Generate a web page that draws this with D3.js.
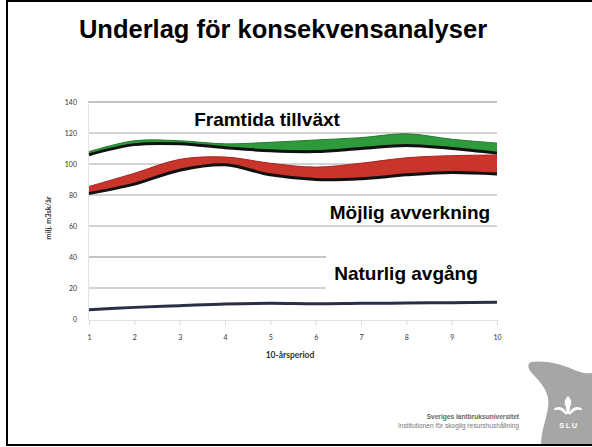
<!DOCTYPE html>
<html>
<head>
<meta charset="utf-8">
<script src="https://cdn.jsdelivr.net/npm/d3@7"></script>
<style>
  body { margin: 0; background: #fff; }
  svg { display: block; }
</style>
</head>
<body>
<div id="graph"></div>
<script>

// 10-årsperioder
var periods = [1, 2, 3, 4, 5, 6, 7, 8, 9, 10];

// Framtida tillväxt (övre kant, grön) och undre svarta linjen
var tillvaxtTop = [108, 115, 115, 113, 114, 115.5, 117, 119.5, 116, 113.5];
var tillvaxtBottom = [106, 112.5, 113, 110.5, 108.5, 108, 110, 112, 110, 107];

// Möjlig avverkning (övre kant, röd) och undre svarta linjen
var avverkningTop = [85.5, 94, 103, 104.5, 100.5, 98, 100.5, 104, 105.4, 105.8];
var avverkningBottom = [81, 87, 96, 99.5, 93, 90, 90.5, 93, 94.5, 93.5];

// Naturlig avgång
var avgang = [6, 7.5, 8.6, 9.7, 10.1, 9.8, 10.1, 10.3, 10.5, 10.8];

var yTicks = [0, 20, 40, 60, 80, 100, 120, 140];

var labels = [
	{ text: "Framtida tillväxt", x: 267, y: 126, box: [186, 107, 164, 25], op: 0.55 },
	{ text: "Möjlig avverkning", x: 410, y: 219, box: [322, 199, 178, 25], op: 0.55 },
	{ text: "Naturlig avgång", x: 406, y: 280, box: [326, 250, 176, 44], op: 1 }
];

function createGraph() {

	var svg = d3.select("#graph")
		.append("svg")
		.attr("width", 592)
		.attr("height", 447);

	var x = d3.scaleLinear().domain([1, 10]).range([89, 497]);
	var y = d3.scaleLinear().domain([0, 140]).range([319, 102]);

	// slide frame
	svg.append("rect")
		.attr("x", 7).attr("y", 1)
		.attr("width", 600).attr("height", 444)
		.attr("fill", "none")
		.attr("stroke", "#000")
		.attr("stroke-width", 2);

	// title
	svg.append("text")
		.attr("x", 283).attr("y", 38)
		.attr("text-anchor", "middle")
		.attr("font-family", "Liberation Sans, Arial, sans-serif")
		.attr("font-weight", "bold")
		.attr("font-size", 25.5)
		.text("Underlag för konsekvensanalyser");

	// gridlines
	svg.append("g")
		.selectAll("line")
		.data(yTicks.filter(d => d > 0))
		.enter().append("line")
		.attr("x1", 88).attr("x2", 497)
		.attr("y1", d => y(d)).attr("y2", d => y(d))
		.attr("stroke", d => (d == 140 || d == 40) ? "#c4c4c4" : "#a8a8a8")
		.attr("stroke-width", d => (d == 140 || d == 40) ? 1.8 : 1.1);

	// y axis
	var yAxis = d3.axisLeft(y)
		.tickValues(yTicks)
		.tickSize(0)
		.tickPadding(11);
	var gy = svg.append("g")
		.attr("transform", "translate(88,0)")
		.call(yAxis);
	gy.select(".domain").attr("stroke", "#e2e2e2");
	gy.selectAll("text")
		.attr("font-family", "Lato, DejaVu Sans, sans-serif")
		.attr("font-size", 7)
		.attr("fill", "#333");

	// x axis
	var xAxis = d3.axisBottom(x)
		.tickValues(periods)
		.tickSize(5)
		.tickPadding(10);
	var gx = svg.append("g")
		.attr("transform", "translate(0,320)")
		.call(xAxis);
	gx.select(".domain").attr("stroke", "#e2e2e2");
	gx.selectAll(".tick line").attr("stroke", "#d8d8d8");
	gx.selectAll("text")
		.attr("font-family", "Lato, DejaVu Sans, sans-serif")
		.attr("font-size", 7)
		.attr("fill", "#333");

	svg.append("text")
		.attr("x", 290).attr("y", 358)
		.attr("text-anchor", "middle")
		.attr("font-family", "Lato, DejaVu Sans, sans-serif")
		.attr("font-weight", "bold")
		.attr("font-size", 8.5)
		.attr("fill", "#333")
		.text("10-årsperiod");

	svg.append("text")
		.attr("transform", "translate(51,218) rotate(-90)")
		.attr("text-anchor", "middle")
		.attr("font-family", "Lato, DejaVu Sans, sans-serif")
		.attr("font-weight", "bold")
		.attr("font-size", 7.5)
		.attr("fill", "#333")
		.text("milj. m3sk/år");

	var curve = d3.curveCatmullRom.alpha(0.5);

	var area = d3.area()
		.x((d, i) => x(periods[i]))
		.y0(d => y(d[1]))
		.y1(d => y(d[0]))
		.curve(curve);

	var line = d3.line()
		.x((d, i) => x(periods[i]))
		.y(d => y(d))
		.curve(curve);

	// Framtida tillväxt
	svg.append("path")
		.datum(d3.zip(tillvaxtTop, tillvaxtBottom))
		.attr("d", area)
		.attr("fill", "#2f9a3c");
	svg.append("path")
		.datum(tillvaxtTop)
		.attr("d", line)
		.attr("fill", "none")
		.attr("stroke", "#1f7a2c")
		.attr("stroke-width", 1);
	svg.append("path")
		.datum(tillvaxtBottom)
		.attr("d", line)
		.attr("fill", "none")
		.attr("stroke", "#111")
		.attr("stroke-width", 3);

	// Möjlig avverkning
	svg.append("path")
		.datum(d3.zip(avverkningTop, avverkningBottom))
		.attr("d", area)
		.attr("fill", "#c9342b");
	svg.append("path")
		.datum(avverkningTop)
		.attr("d", line)
		.attr("fill", "none")
		.attr("stroke", "#a82620")
		.attr("stroke-width", 1);
	svg.append("path")
		.datum(avverkningBottom)
		.attr("d", line)
		.attr("fill", "none")
		.attr("stroke", "#111")
		.attr("stroke-width", 3);

	// Naturlig avgång
	svg.append("path")
		.datum(avgang)
		.attr("d", line)
		.attr("fill", "none")
		.attr("stroke", "#2b2f45")
		.attr("stroke-width", 3);

	// text labels with white boxes
	var lab = svg.append("g").selectAll("g")
		.data(labels)
		.enter().append("g");
	lab.append("rect")
		.attr("x", d => d.box[0]).attr("y", d => d.box[1])
		.attr("width", d => d.box[2]).attr("height", d => d.box[3])
		.attr("fill", "#fff")
		.attr("fill-opacity", d => d.op);
	lab.append("text")
		.attr("x", d => d.x).attr("y", d => d.y)
		.attr("text-anchor", "middle")
		.attr("font-family", "Liberation Sans, Arial, sans-serif")
		.attr("font-weight", "bold")
		.attr("font-size", 19)
		.text(d => d.text);

	// footer
	svg.append("text")
		.attr("x", 519).attr("y", 419)
		.attr("text-anchor", "end")
		.attr("font-family", "Liberation Sans, Arial, sans-serif")
		.attr("font-weight", "bold")
		.attr("font-size", 6.6)
		.attr("fill", "#666")
		.text("Sveriges lantbruksuniversitet");
	svg.append("text")
		.attr("x", 519).attr("y", 428)
		.attr("text-anchor", "end")
		.attr("font-family", "Liberation Sans, Arial, sans-serif")
		.attr("font-size", 6.6)
		.attr("fill", "#777")
		.text("Institutionen för skoglig resurshushållning");

	// SLU logo
	svg.append("path")
		.attr("d", "M531,362 C527,364 528,368 531,372 C540,382 551,392 548,408 C546,420 541,432 541,444 L592,444 L592,373 C585,374 578,372 570,368 C560,364 545,360 531,362 Z")
		.attr("fill", "#a6a6a6");
	var logo = svg.append("g").attr("fill", "#fff");
	logo.append("path")
		.attr("d", "M568,396 C572,400 572,404 570,407 L569.5,414 L566.5,414 L566,407 C564,404 564,400 568,396 Z");
	logo.append("path")
		.attr("d", "M567,413 C563,406 557,406 554,409 C554,410 555,410 556,410 C560,409 563,411 566,415 Z");
	logo.append("path")
		.attr("d", "M569,413 C573,406 579,406 582,409 C582,410 581,410 580,410 C576,409 573,411 570,415 Z");
	logo.append("text")
		.attr("x", 569).attr("y", 428)
		.attr("text-anchor", "middle")
		.attr("font-family", "Liberation Sans, Arial, sans-serif")
		.attr("font-weight", "bold")
		.attr("font-size", 7.5)
		.attr("letter-spacing", 1.5)
		.text("SLU");
}

createGraph();
</script>
</body>
</html>
